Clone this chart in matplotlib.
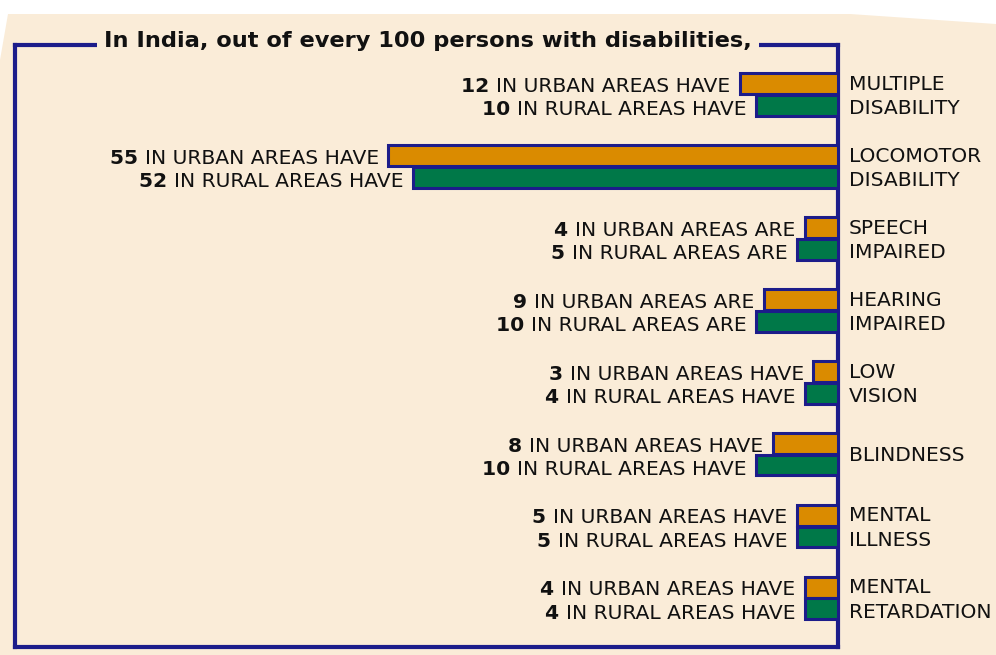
import matplotlib
matplotlib.use("Agg")
import matplotlib.pyplot as plt
from matplotlib.patches import Polygon

categories = [["MULTIPLE", "DISABILITY"], ["LOCOMOTOR", "DISABILITY"],
              ["SPEECH", "IMPAIRED"], ["HEARING", "IMPAIRED"],
              ["LOW", "VISION"], ["BLINDNESS", ""],
              ["MENTAL", "ILLNESS"], ["MENTAL", "RETARDATION"]]
urban = [12, 55, 4, 9, 3, 8, 5, 4]
rural = [10, 52, 5, 10, 4, 10, 5, 4]
verbs = ["HAVE", "HAVE", "ARE", "ARE", "HAVE", "HAVE", "HAVE", "HAVE"]
title = "In India, out of every 100 persons with disabilities,"

BEIGE = "#faecd8"
NAVY = "#1c1c8a"
ORANGE = "#da8b00"
GREEN = "#007848"
LFONT = "DejaVu Sans"
FS = 14.6

W, H = 996, 655
fig = plt.figure(figsize=(W / 100, H / 100), dpi=100, facecolor="white")


def fx(x):
    return x / W


def fy(y):
    return 1 - y / H


# paper background
paper = Polygon([(fx(8), fy(14)), (fx(850), fy(14)), (fx(996), fy(24)),
                 (fx(996), fy(655)), (fx(0), fy(655)), (fx(0), fy(60))],
                closed=True, transform=fig.transFigure, facecolor=BEIGE,
                edgecolor="none", zorder=-5)
fig.patches.append(paper)

# axes: left 15px, right 838px, top 45px, bottom 647px
ax = fig.add_axes([fx(15), fy(647), fx(838 - 15), (647 - 45) / H])
ax.set_zorder(2)
ax.set_facecolor("none")
ax.set_xlim(100.7, 0)
ax.set_ylim(7.68, -0.69)
for s in ax.spines.values():
    s.set_color(NAVY)
    s.set_linewidth(3)
ax.set_xticks([])
ax.set_yticks([])

bh = 0.29
ypos = list(range(len(urban)))
yu = [y - 0.15 for y in ypos]
yr = [y + 0.15 for y in ypos]
ax.barh(yu, urban, height=bh, color=ORANGE, edgecolor=NAVY, linewidth=2.2, zorder=3)
ax.barh(yr, rural, height=bh, color=GREEN, edgecolor=NAVY, linewidth=2.2, zorder=3)

fig.canvas.draw()
renderer = fig.canvas.get_renderer()


def label(y, val, text, dy):
    t = ax.annotate(text, xy=(val, y), xytext=(-7, dy), textcoords="offset points",
                    ha="right", va="baseline", fontsize=FS, family=LFONT,
                    color="#111111", zorder=5)
    bb = t.get_window_extent(renderer)
    ax.annotate(str(val) + " ", xy=(val, y), xytext=(-7 - bb.width * 72 / 100, dy),
                textcoords="offset points", ha="right", va="baseline",
                fontsize=FS, family=LFONT, fontweight="bold",
                color="#111111", zorder=5)


def cat(y, text, dy):
    ax.annotate(text, xy=(0, y), xytext=(8, dy), textcoords="offset points",
                ha="left", va="baseline", fontsize=FS, family=LFONT,
                color="#111111", annotation_clip=False)


for i in ypos:
    label(yu[i], urban[i], "IN URBAN AREAS " + verbs[i], -5.8)
    label(yr[i], rural[i], "IN RURAL AREAS " + verbs[i], -7.0)
    l1, l2 = categories[i]
    if l2:
        cat(yu[i], l1, -4.4)
        cat(yr[i], l2, -6.4)
    else:
        cat(ypos[i], l1, -4.6)

# title sits over the top frame line
fig.text(fx(428), fy(47), title, ha="center", va="baseline", fontsize=16.2,
         family=LFONT, fontweight="bold", color="#111111",
         bbox=dict(facecolor=BEIGE, edgecolor="none", pad=5), zorder=10)

fig.savefig("out.png", dpi=100, facecolor="white")
